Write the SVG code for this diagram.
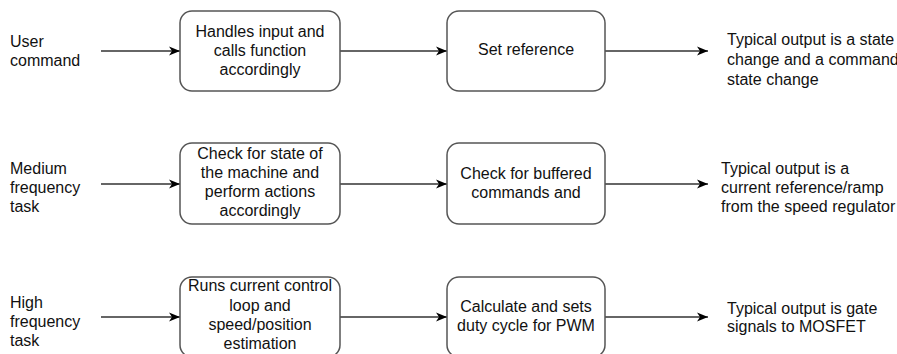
<svg xmlns="http://www.w3.org/2000/svg" width="897" height="354" viewBox="0 0 897 354">
<style>
.box{fill:#fff;stroke:#555;stroke-width:1.5}
.t{font-family:"Liberation Sans",Arial,sans-serif;font-size:16px;fill:#111}
.c{text-anchor:middle}
.edge{stroke:#333;stroke-width:1.5;fill:none;marker-end:url(#ah)}
</style>
<defs>
<marker id="ah" markerUnits="userSpaceOnUse" markerWidth="12" markerHeight="10" refX="11" refY="5" orient="auto">
<path d="M0,0.5 L11,5 L0,9.5 L3,5 Z" fill="#000"/>
</marker>
</defs>
<rect width="897" height="354" fill="#fff"/>
<g id="connectors">
<line class="edge" x1="101" y1="51" x2="180" y2="51"/>
<line class="edge" x1="340" y1="51" x2="447" y2="51"/>
<line class="edge" x1="605" y1="51" x2="708" y2="51"/>
<line class="edge" x1="101" y1="184" x2="180" y2="184"/>
<line class="edge" x1="340" y1="184" x2="447" y2="184"/>
<line class="edge" x1="605" y1="184" x2="708" y2="184"/>
<line class="edge" x1="101" y1="317" x2="180" y2="317"/>
<line class="edge" x1="340" y1="317" x2="447" y2="317"/>
<line class="edge" x1="605" y1="317" x2="708" y2="317"/>
</g>
<g id="in1"><text class="t" x="10" y="47">User</text><text class="t" x="10" y="66">command</text></g>
<g id="n1a"><rect class="box" x="180" y="11" width="160" height="80" rx="12"/>
<text class="t c" x="260" y="37">Handles input and</text><text class="t c" x="260" y="56">calls function</text><text class="t c" x="260" y="75">accordingly</text></g>
<g id="n1b"><rect class="box" x="447" y="11" width="158" height="80" rx="12"/>
<text class="t c" x="526" y="55">Set reference</text></g>
<g id="out1"><text class="t" x="727" y="45">Typical output is a state</text><text class="t" x="727" y="65">change and a command</text><text class="t" x="727" y="85">state change</text></g>

<g id="in2"><text class="t" x="10" y="174">Medium</text><text class="t" x="10" y="193">frequency</text><text class="t" x="10" y="212">task</text></g>
<g id="n2a"><rect class="box" x="180" y="143" width="160" height="81" rx="12"/>
<text class="t c" x="260" y="159">Check for state of</text><text class="t c" x="260" y="178">the machine and</text><text class="t c" x="260" y="197">perform actions</text><text class="t c" x="260" y="216">accordingly</text></g>
<g id="n2b"><rect class="box" x="447" y="143" width="158" height="81" rx="12"/>
<text class="t c" x="526" y="179">Check for buffered</text><text class="t c" x="526" y="198">commands and</text></g>
<g id="out2"><text class="t" x="721" y="174">Typical output is a</text><text class="t" x="721" y="193">current reference/ramp</text><text class="t" x="721" y="212">from the speed regulator</text></g>

<g id="in3"><text class="t" x="10" y="308">High</text><text class="t" x="10" y="327">frequency</text><text class="t" x="10" y="346">task</text></g>
<g id="n3a"><rect class="box" x="180" y="277" width="160" height="80" rx="12"/>
<text class="t c" x="260" y="291">Runs current control</text><text class="t c" x="260" y="311">loop and</text><text class="t c" x="260" y="330">speed/position</text><text class="t c" x="260" y="349">estimation</text></g>
<g id="n3b"><rect class="box" x="447" y="277" width="158" height="80" rx="12"/>
<text class="t c" x="526" y="312">Calculate and sets</text><text class="t c" x="526" y="331">duty cycle for PWM</text></g>
<g id="out3"><text class="t" x="727" y="314">Typical output is gate</text><text class="t" x="727" y="332">signals to MOSFET</text></g>
</svg>
